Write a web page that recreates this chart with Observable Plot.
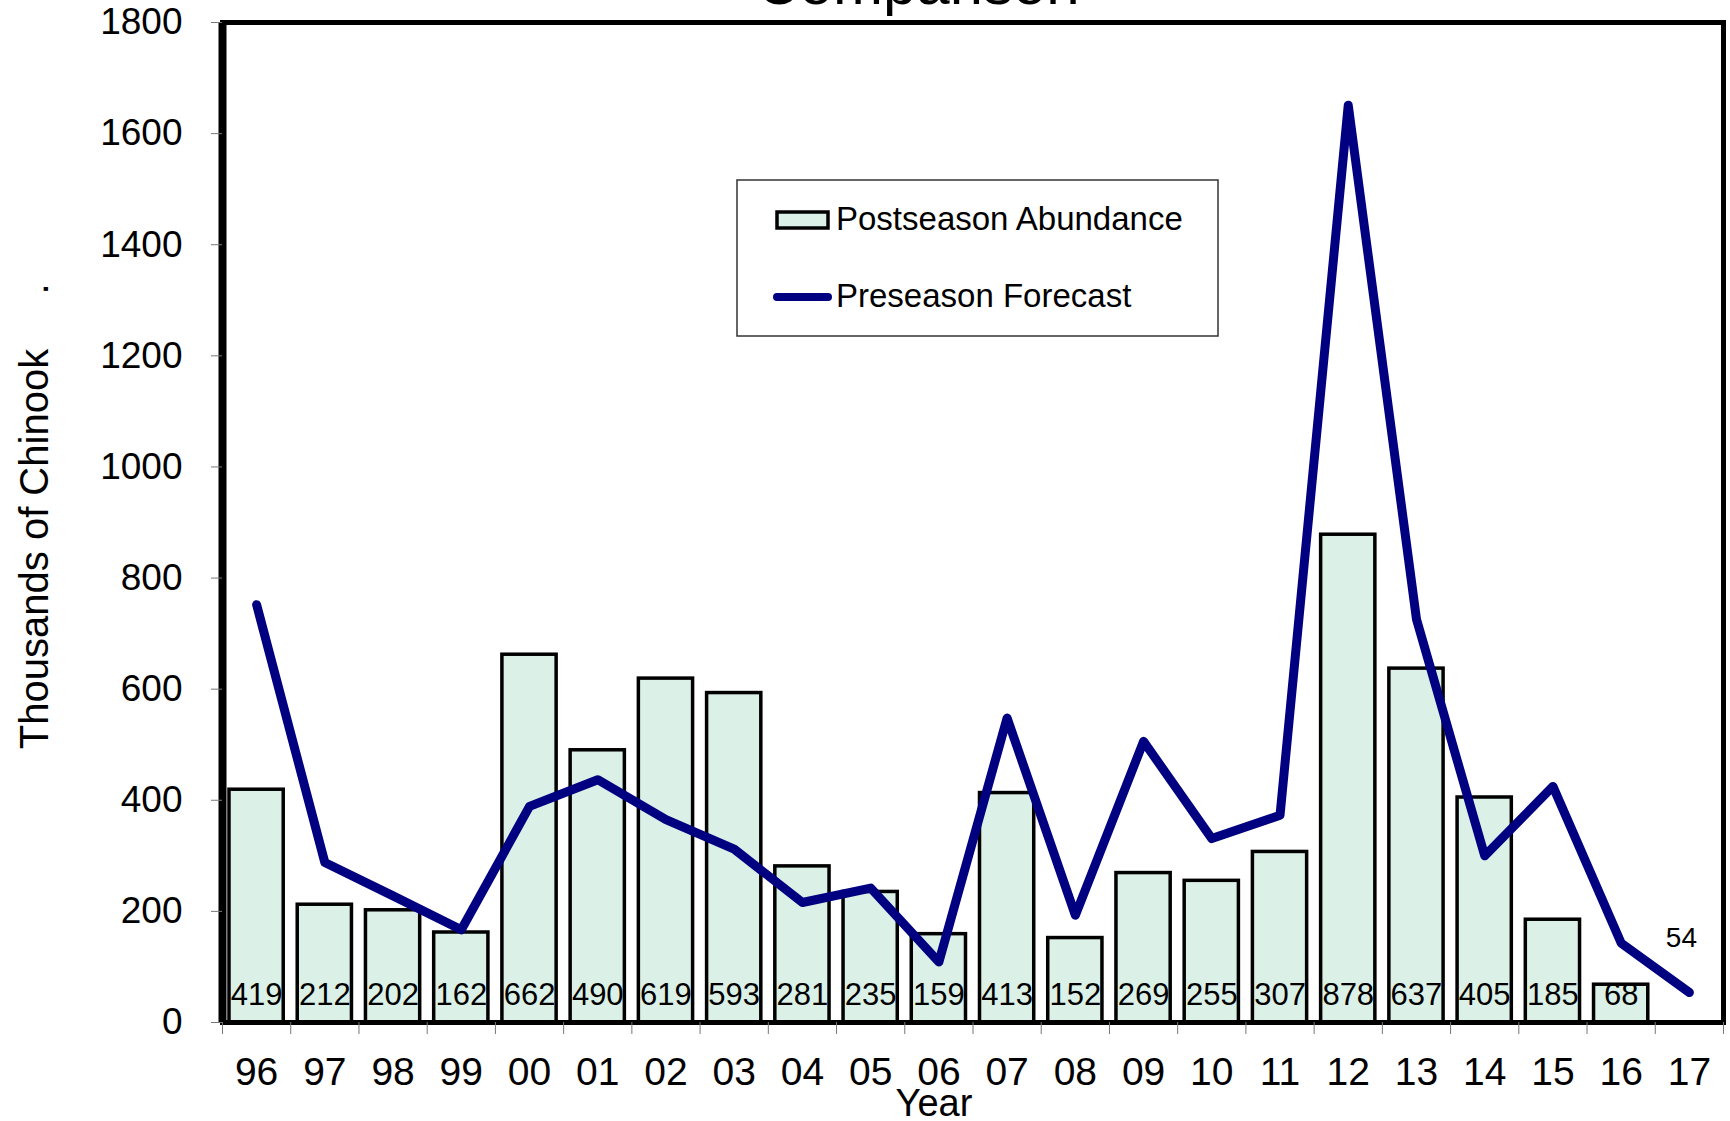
<!DOCTYPE html>
<html><head><meta charset="utf-8">
<script src="https://cdn.jsdelivr.net/npm/d3@7"></script>
<script src="https://cdn.jsdelivr.net/npm/@observablehq/plot@0.6"></script>
<style>
html,body{margin:0;padding:0;background:#fff;}
#chart{position:relative;width:1730px;height:1121px;overflow:hidden;}
</style></head><body><div id="chart"></div>
<script>
// ---- data ----
const years = ["96","97","98","99","00","01","02","03","04","05","06","07","08","09","10","11","12","13","14","15","16","17"];
const postseason = [419,212,202,162,662,490,619,593,281,235,159,413,152,269,255,307,878,637,405,185,68,null];
const forecast = [752,288,228,167,389,437,365,312,216,242,109,548,193,506,331,373,1651,726,300,425,143,54];
const seriesNames = ["Postseason Abundance","Preseason Forecast"];
const chartTitle = "Comparison";
const yLabel = "Thousands of Chinook";
const xLabel = "Year";
const yTicks = d3.range(0, 1801, 200);

const rows = years.map((year, i) => ({i, year, post: postseason[i], fc: forecast[i]}));
const bars = rows.filter(d => d.post != null);
const last = rows.slice(-1);

const font = '"Liberation Sans", Arial, Helvetica, sans-serif';
const barFill = "#dbf0e6", navy = "#000080";

const plot = Plot.plot({
  width: 1730, height: 1121,
  marginLeft: 222, marginRight: 7, marginTop: 22, marginBottom: 99,
  style: {fontFamily: font, background: "white", color: "black"},
  x: {type: "linear", domain: [0, years.length]},
  y: {domain: [0, 1800]},
  marks: [
    Plot.rect(bars, {x1: "i", x2: d => d.i + 1, y1: () => 0, y2: "post", insetLeft: 7, insetRight: 7, fill: barFill, stroke: "black", strokeWidth: 3.5}),
    Plot.line(rows, {x: d => d.i + 0.5, y: "fc", stroke: navy, strokeWidth: 9, strokeLinejoin: "round", strokeLinecap: "round"}),
    Plot.text(bars, {x: d => d.i + 0.5, y: () => 0, text: d => String(d.post), dy: -27, fontSize: 31, fill: "black"}),
    Plot.text(last, {x: d => d.i + 0.5, y: "fc", text: d => String(d.fc), dy: -54, dx: -8, fontSize: 28, fill: "black"}),
    Plot.frame({stroke: "black", strokeWidth: 5}),
    Plot.ruleX([0], {stroke: "black", strokeWidth: 8}),
    Plot.axisY({ticks: yTicks, tickSize: 11, tickPadding: 29, tickFormat: d => String(d), fontSize: 37, stroke: "#777", fill: "black", label: null}),
    Plot.axisX({ticks: d3.range(0, years.length + 1), tickSize: 12, tickFormat: () => "", stroke: "#777", label: null}),
    Plot.axisX({ticks: d3.range(years.length).map(i => i + 0.5), tickSize: 0, tickPadding: 35, tickFormat: v => years[Math.floor(v)], fontSize: 39, fill: "black", label: null})
  ]
});
document.getElementById("chart").appendChild(plot);

const svg = d3.select(plot);

// title (cut off at top as in the original)
svg.append("text").attr("x", 918).attr("y", 4).attr("text-anchor", "middle")
  .attr("font-family", font).attr("font-size", 60).attr("fill", "black").text(chartTitle);

// axis titles
svg.append("text").attr("transform", "translate(48,549) rotate(-90)").attr("text-anchor", "middle")
  .attr("font-family", font).attr("font-size", 40).attr("fill", "black").text(yLabel);
svg.append("text").attr("transform", "translate(48,289) rotate(-90)").attr("text-anchor", "middle")
  .attr("font-family", font).attr("font-size", 40).attr("fill", "black").text(".");
svg.append("text").attr("x", 934).attr("y", 1116).attr("text-anchor", "middle")
  .attr("font-family", font).attr("font-size", 38).attr("fill", "black").text(xLabel);

// legend
const lg = svg.append("g").attr("font-family", font).attr("font-size", 33).attr("fill", "black").attr("text-anchor", "start");
lg.append("rect").attr("x", 737).attr("y", 180).attr("width", 481).attr("height", 156)
  .attr("fill", "white").attr("stroke", "#333").attr("stroke-width", 1.5);
lg.append("rect").attr("x", 777).attr("y", 212).attr("width", 51).attr("height", 16)
  .attr("fill", barFill).attr("stroke", "black").attr("stroke-width", 3.5);
lg.append("text").attr("x", 836).attr("y", 230).attr("text-anchor", "start").text(seriesNames[0]);
lg.append("line").attr("x1", 777).attr("x2", 828).attr("y1", 297).attr("y2", 297)
  .attr("stroke", navy).attr("stroke-width", 8).attr("stroke-linecap", "round");
lg.append("text").attr("x", 836).attr("y", 307).attr("text-anchor", "start").text(seriesNames[1]);
</script>
</body></html>
